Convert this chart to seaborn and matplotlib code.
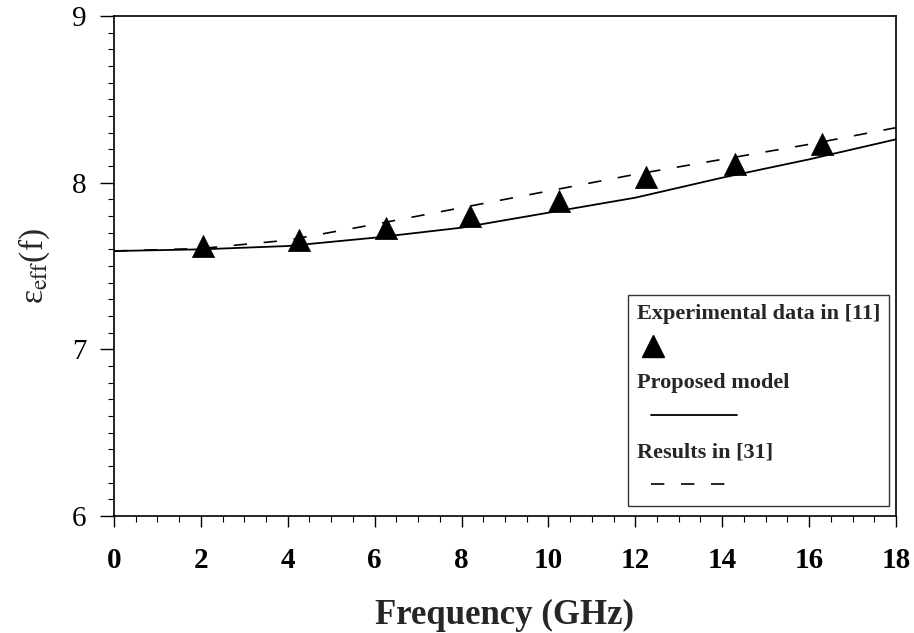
import numpy as np
import pandas as pd
import matplotlib
matplotlib.use('Agg')
import matplotlib.pyplot as plt
import seaborn as sns
from matplotlib.lines import Line2D
from matplotlib.legend_handler import HandlerLine2D
from matplotlib.ticker import MultipleLocator

# --- data ---
freq_exp = [2.05, 4.25, 6.25, 8.2, 10.25, 12.25, 14.3, 16.3]
eps_exp = [7.62, 7.655, 7.73, 7.80, 7.89, 8.035, 8.115, 8.23]

freq_curve = [0, 2, 4, 6, 8, 10, 12, 14, 16, 18]
eps_model = [7.59, 7.60, 7.62, 7.67, 7.73, 7.82, 7.91, 8.03, 8.14, 8.26]
eps_ref31 = [7.59, 7.605, 7.655, 7.75, 7.85, 7.95, 8.05, 8.14, 8.23, 8.33]

legend_labels = ['Experimental data in [11]', 'Proposed model', 'Results in [31]']

sns.set_style('ticks')
plt.rcParams['font.family'] = ['Liberation Serif', 'DejaVu Serif']
plt.rcParams['mathtext.fontset'] = 'stix'

exp_df = pd.DataFrame({'freq': freq_exp, 'eps': eps_exp})
curve_df = pd.DataFrame({'freq': freq_curve, 'model': eps_model, 'ref31': eps_ref31})

fig = plt.figure(figsize=(9.14, 6.33), dpi=100)
ax = fig.add_axes([0.1247, 0.1848, 0.8556, 0.7899])

DASH = (0, (8, 10))
sns.lineplot(data=curve_df, x='freq', y='model', color='black', lw=1.3, ax=ax)
sns.lineplot(data=curve_df, x='freq', y='ref31', color='black', lw=1.2,
             linestyle=DASH, ax=ax)
sns.scatterplot(data=exp_df, x='freq', y='eps', marker='^', s=16 ** 2,
                color='black', edgecolor='black', linewidth=0.5, zorder=3, ax=ax)

ax.set_xlim(0, 18)
ax.set_ylim(6, 9)
ax.xaxis.set_major_locator(MultipleLocator(2))
ax.xaxis.set_minor_locator(MultipleLocator(0.5))
ax.yaxis.set_major_locator(MultipleLocator(1))
ax.yaxis.set_minor_locator(MultipleLocator(0.1))
ax.tick_params(which='major', direction='out', length=10, width=1, colors='black',
               labelsize=21)
ax.tick_params(axis='x', which='major', length=8, pad=14)
ax.tick_params(axis='y', which='major', pad=10)
ax.tick_params(which='minor', direction='out', length=4, width=0.8, colors='black')
for lab in ax.get_xticklabels():
    lab.set_fontweight('bold')
for s in ax.spines.values():
    s.set_visible(True)
    s.set_linewidth(1.2)
    s.set_color('black')

ax.set_xlabel('Frequency (GHz)', fontsize=25, fontweight='bold', labelpad=18)
ax.set_ylabel(r'ε$_{\mathrm{eff}}$(f)', fontsize=24, labelpad=14)


# legend: text on one row, its sample on the row below
class SpanHandler(HandlerLine2D):
    def __init__(self, start, end, **kw):
        super().__init__(**kw)
        self.start, self.end = start, end

    def get_xdata(self, legend, xdescent, ydescent, width, height, fontsize):
        xs = -xdescent + np.array([self.start, self.end]) * width
        return xs, xs[:1]


blank = Line2D([], [], linestyle='none')
tri = Line2D([], [], linestyle='none', marker='^', markersize=16, color='black')
solid = Line2D([], [], color='black', lw=1.3)
dashed = Line2D([], [], color='black', lw=1.2, linestyle=DASH)

hl = 4.5
leg = ax.legend([blank, tri, blank, solid, blank, dashed],
                [legend_labels[0], '', legend_labels[1], '', legend_labels[2], ''],
                handler_map={tri: SpanHandler(0.04, 0.28, numpoints=1),
                             solid: SpanHandler(0.14, 1.0, numpoints=1),
                             dashed: SpanHandler(0.14, 0.88, numpoints=1)},
                loc='lower right', bbox_to_anchor=(0.991, 0.02), borderaxespad=0,
                handlelength=hl, handletextpad=-hl, labelspacing=0.63,
                borderpad=0.4, fancybox=False, frameon=True,
                prop={'size': 16, 'weight': 'bold'})
leg.get_frame().set_edgecolor('black')
leg.get_frame().set_linewidth(1.0)

fig.savefig('out.png', dpi=100)
